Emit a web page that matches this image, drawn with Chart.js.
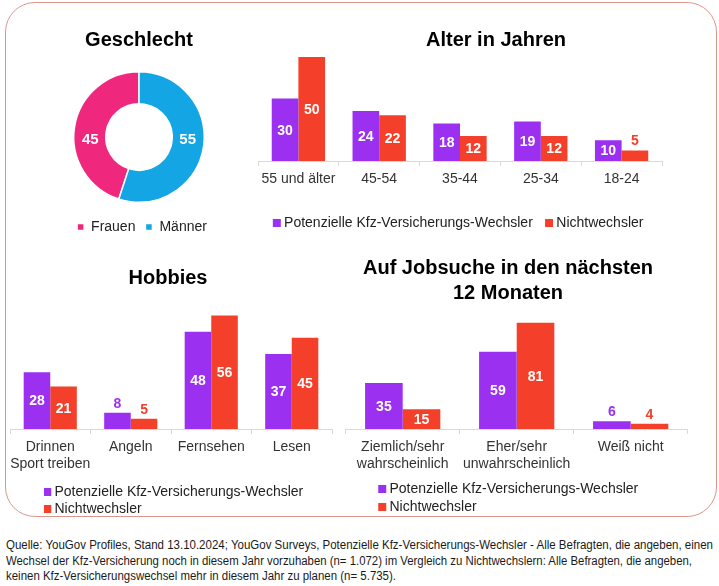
<!DOCTYPE html>
<html><head><meta charset="utf-8">
<script src="https://cdn.jsdelivr.net/npm/chart.js@4.4.1/dist/chart.umd.min.js"></script>
<style>
html,body{margin:0;padding:0;background:#fff;width:719px;height:586px;overflow:hidden;}
#frame{position:absolute;left:5px;top:2px;width:712px;height:515px;box-sizing:border-box;border:1.5px solid #dd968b;border-radius:30px;}
canvas{position:absolute;}
#src{position:absolute;left:6px;top:538px;font-family:'Liberation Sans Narrow','Liberation Sans',Arial,sans-serif;font-size:12px;color:#1a1a1a;line-height:15.5px;}
#src div{white-space:nowrap;height:15.5px;}
#src span{display:inline-block;transform-origin:0 0;white-space:nowrap;}
</style></head><body>
<div id="frame"></div>
<canvas id="c1" width="200" height="232" style="left:39px;top:15px"></canvas>
<canvas id="c2" width="430" height="226" style="left:245px;top:15px"></canvas>
<canvas id="c3" width="345" height="280" style="left:0px;top:250px"></canvas>
<canvas id="c4" width="363" height="280" style="left:335px;top:250px"></canvas>
<div id="src">
<div><span data-w="707">Quelle: YouGov Profiles, Stand 13.10.2024; YouGov Surveys, Potenzielle Kfz-Versicherungs-Wechsler - Alle Befragten, die angeben, einen</span></div>
<div><span data-w="686">Wechsel der Kfz-Versicherung noch in diesem Jahr vorzuhaben (n= 1.072) im Vergleich zu Nichtwechslern: Alle Befragten, die angeben,</span></div>
<div><span data-w="390">keinen Kfz-Versicherungswechsel mehr in diesem Jahr zu planen (n= 5.735).</span></div>
</div>
<script>
// ---- data ----
const genderLabels = ['Frauen', 'Männer'];
const genderValues = [45, 55];

const seriesNames = ['Potenzielle Kfz-Versicherungs-Wechsler', 'Nichtwechsler'];

const ageLabels = ['55 und älter', '45-54', '35-44', '25-34', '18-24'];
const ageSwitchers = [30, 24, 18, 19, 10];
const ageNonSwitchers = [50, 22, 12, 12, 5];

const hobbyLabels = [['Drinnen', 'Sport treiben'], 'Angeln', 'Fernsehen', 'Lesen'];
const hobbySwitchers = [28, 8, 48, 37];
const hobbyNonSwitchers = [21, 5, 56, 45];

const jobLabels = [['Ziemlich/sehr', 'wahrscheinlich'], ['Eher/sehr', 'unwahrscheinlich'], 'Weiß nicht'];
const jobSwitchers = [35, 59, 6];
const jobNonSwitchers = [15, 81, 4];

// ---- styles ----
const PURPLE = '#9b30f0';
const RED = '#f4402a';
const PINK = '#f0287d';
const BLUE = '#14a5e4';
const FONT = "'Liberation Sans', Arial, Helvetica, sans-serif";
Chart.defaults.font.family = FONT;

const shiftPlugin = {
  id: 'shift',
  afterLayout(chart, args, opts) {
    const mv = (box, d) => {
      if (!box || !d) return;
      box.left += d[0]; box.right += d[0];
      box.top += d[1]; box.bottom += d[1];
    };
    mv(chart.titleBlock, opts.title);
    mv(chart.legend, opts.legend);
  }
};

const barLabelPlugin = {
  id: 'barLabels',
  afterDatasetsDraw(chart) {
    const ctx = chart.ctx;
    ctx.save();
    ctx.font = "bold 14px " + FONT;
    ctx.textAlign = 'center';
    ctx.textBaseline = 'middle';
    chart.data.datasets.forEach((ds, i) => {
      const meta = chart.getDatasetMeta(i);
      meta.data.forEach((bar, j) => {
        const v = ds.data[j];
        if (v < 9) {
          ctx.fillStyle = ds.backgroundColor;
          ctx.fillText(String(v), bar.x, bar.y - 9);
        } else {
          ctx.fillStyle = '#ffffff';
          ctx.fillText(String(v), bar.x, (bar.y + bar.base) / 2 + 1);
        }
      });
    });
    ctx.restore();
  }
};

const arcLabelPlugin = {
  id: 'arcLabels',
  afterDatasetsDraw(chart) {
    const ctx = chart.ctx;
    ctx.save();
    ctx.font = "bold 15px " + FONT;
    ctx.textAlign = 'center';
    ctx.textBaseline = 'middle';
    ctx.fillStyle = '#ffffff';
    const ds = chart.data.datasets[0];
    chart.getDatasetMeta(0).data.forEach((arc, j) => {
      const p = arc.tooltipPosition();
      ctx.fillText(String(ds.data[j]), p.x, arc.y + 3);
    });
    ctx.restore();
  }
};

// ---- doughnut ----
const genderTotal = genderValues.reduce((a, b) => a + b, 0);
new Chart(document.getElementById('c1'), {
  type: 'doughnut',
  data: {
    labels: genderLabels,
    datasets: [{ data: genderValues, backgroundColor: [PINK, BLUE], borderColor: '#ffffff', borderWidth: 1.5 }]
  },
  options: {
    responsive: false, animation: false, devicePixelRatio: 1,
    rotation: 360 * genderValues[1] / genderTotal,
    cutout: '51%',
    layout: { padding: { bottom: 10 } },
    plugins: {
      title: { display: true, text: 'Geschlecht', color: '#000', font: { size: 20, weight: 'bold', lineHeight: 1.2 }, padding: { top: 13, bottom: 19 } },
      legend: { position: 'bottom', labels: { boxWidth: 7, boxHeight: 7, padding: 10, color: '#222', font: { size: 14 } } },
      tooltip: { enabled: false },
      shift: { legend: [3, 7] }
    }
  },
  plugins: [shiftPlugin, arcLabelPlugin]
});

// ---- bar charts ----
function barChart(id, labels, a, b, o) {
  return new Chart(document.getElementById(id), {
    type: 'bar',
    data: {
      labels: labels,
      datasets: [
        { label: seriesNames[0], data: a, backgroundColor: PURPLE, categoryPercentage: 0.66, barPercentage: 1 },
        { label: seriesNames[1], data: b, backgroundColor: RED, categoryPercentage: 0.66, barPercentage: 1 }
      ]
    },
    options: {
      responsive: false, animation: false, devicePixelRatio: 1,
      layout: { padding: o.padding },
      scales: {
        x: {
          grid: { display: true, drawOnChartArea: false, drawTicks: true, tickLength: 5, color: '#d9d9d9', offset: true },
          border: { display: true, color: '#d9d9d9', width: 1 },
          ticks: { padding: 5, color: '#333', font: { size: 14 }, maxRotation: 0, autoSkip: false }
        },
        y: { display: false, min: 0, max: o.max }
      },
      plugins: {
        title: { display: true, text: o.title, color: '#000', font: { size: 20, weight: 'bold', lineHeight: o.titleLH || 1.2 }, padding: o.titlePad },
        legend: {
          position: 'bottom', align: o.legendAlign,
          labels: { usePointStyle: true, pointStyle: 'rect', boxWidth: 0.5, boxHeight: 8, padding: o.legendPad, color: '#222', font: { size: 14 } }
        },
        tooltip: { enabled: false },
        shift: { title: o.titleShift, legend: o.legendShift }
      }
    },
    plugins: [shiftPlugin, barLabelPlugin]
  });
}

barChart('c2', ageLabels, ageSwitchers, ageNonSwitchers, {
  padding: { left: 13, right: 13, bottom: 8.2 },
  max: 51, title: 'Alter in Jahren', titlePad: { top: 13, bottom: 2.8 },
  legendAlign: 'center', legendPad: 16, titleShift: [36, 0], legendShift: [0, 7.2]
});

barChart('c3', hobbyLabels, hobbySwitchers, hobbyNonSwitchers, {
  padding: { left: 10, right: 13, bottom: 8.4 },
  max: 60, title: 'Hobbies', titlePad: { top: 16, bottom: 17.4 },
  legendAlign: 'start', legendPad: 3, titleShift: [-3, 0], legendShift: [34, 4.4]
});

barChart('c4', jobLabels, jobSwitchers, jobNonSwitchers, {
  padding: { left: 10.7, right: 10.3, bottom: 6.4 },
  max: 85, title: ['Auf Jobsuche in den nächsten', '12 Monaten'], titleLH: 1.25, titlePad: { top: 5.5, bottom: 12.05 },
  legendAlign: 'start', legendPad: 4, titleShift: [-8.7, 0], legendShift: [32.3, 0.4]
});

// ---- source note fitting ----
document.querySelectorAll('#src span').forEach(s => {
  const w = s.getBoundingClientRect().width;
  const t = parseFloat(s.dataset.w);
  if (w > 0) s.style.transform = 'scaleX(' + (t / w) + ')';
});
</script>
</body></html>
